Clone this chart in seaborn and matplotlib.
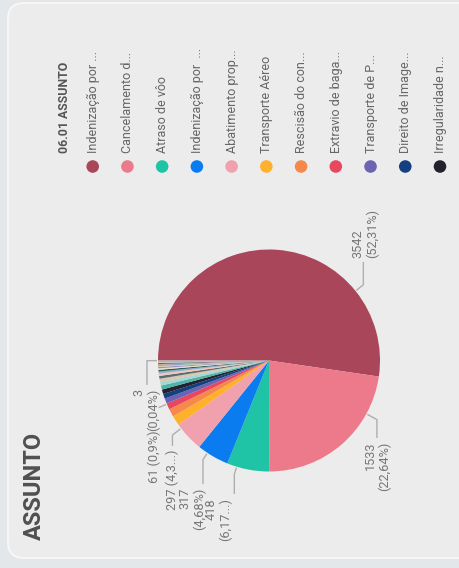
import numpy as np
import pandas as pd
import matplotlib
matplotlib.use("Agg")
import matplotlib.pyplot as plt
from matplotlib.patches import FancyBboxPatch
import seaborn as sns

# Subjects, sorted by number of cases (only the first 11 fit in the legend)
categorias = [
    "Indenização por ...", "Cancelamento d...", "Atraso de vôo",
    "Indenização por  ...", "Abatimento prop...", "Transporte Aéreo",
    "Rescisão do con...", "Extravio de baga...", "Transporte de P...",
    "Direito de Image...", "Irregularidade n...",
    "Overbooking", "Dano moral", "Cobrança indevida", "Reembolso",
    "Assistência material", "Bagagem danificada", "Alteração de voo",
    "Preterição de embarque", "Milhas", "Acessibilidade", "Taxas",
    "Check-in", "Remarcação", "Pacote turístico", "Seguro viagem",
    "Carga", "Animais", "Outros",
]
valores = [
    3542, 1533, 418, 317, 297, 96, 78, 61, 52, 47, 44,
    40, 36, 32, 27, 23, 20, 17, 15, 13, 11, 10, 9, 8, 7, 6, 5, 4, 3,
]
cores = [
    "#A9465A", "#EC7A8B", "#1FC3A6", "#0A7CF0", "#F1A0AE", "#FFB12E",
    "#F5884A", "#E8475F", "#6D63B3", "#143F80", "#22212E",
    "#4FB3A9", "#A7D7D0", "#D9C6B3", "#5B6E6E", "#F3C5C0", "#8FB0C9",
    "#2E5E5A", "#E7E0C9", "#9E8CC0", "#C4D6A0", "#6FA0B8", "#D88F8F",
    "#3D4D5C", "#B5C7C4", "#F2B880", "#7A8F88", "#C9A9C8", "#98C1B9",
]
n_legenda = 11

total = sum(valores)

# Data labels: slice index, position along the slice for the leader,
# label anchor, which end of the text sits next to the leader, line break,
# characters kept of the percentage before the ellipsis.
rotulos = [
    dict(i=0, frac=0.75, x=365.0, y=258, ancora="base", quebra=True, corte=None, ext=10),
    dict(i=1, frac=0.25, x=377.5, y=442, ancora="topo", quebra=True, corte=None, ext=12),
    dict(i=2, frac=0.77, x=218.5, y=498, ancora="topo", quebra=True, corte=4, ext=8),
    dict(i=3, frac=0.69, x=192.0, y=488, ancora="topo", quebra=True, corte=None, ext=8),
    dict(i=4, frac=0.85, x=172.0, y=450, ancora="topo", quebra=False, corte=3, ext=11),
    dict(i=7, frac=0.90, x=154.0, y=430, ancora="topo", quebra=False, corte=None, ext=9, sem_vertical=True),
    dict(i=len(valores) - 1, frac=0.5, x=146.0, y=389, ancora="topo", quebra=True, corte=None, ext=11),
]


def pct_texto(v):
    p = v / total * 100
    s = f"{p:.2f}".rstrip("0").rstrip(".")
    return s.replace(".", ",") + "%"


sns.set_theme(style="white")
plt.rcParams["font.family"] = ["Roboto", "DejaVu Sans"]

fig = plt.figure(figsize=(4.6, 5.68), dpi=100, facecolor="#E3E7EA")
ax = fig.add_axes([0, 0, 1, 1])
ax.set_facecolor("none")

# card
card = FancyBboxPatch((8, 3), 700, 555,
                      boxstyle="round,pad=0,rounding_size=16",
                      fc="#ECECEC", ec="#F7F7F7", lw=1.4, zorder=0,
                      clip_on=False)
ax.add_patch(card)

# pie
cx, cy, raio = 269.0, 360.5, 111.0
ax.pie(valores, colors=cores, startangle=180, counterclock=True,
       radius=raio, center=(cx, cy), frame=True,
       wedgeprops=dict(linewidth=0))

ax.set_xlim(0, 460)
ax.set_ylim(568, 0)
ax.set_aspect("auto")
ax.axis("off")

acum = np.concatenate([[0], np.cumsum(valores)])
cor_rotulo = "#777777"
cor_linha = "#AEAEAE"

for r in rotulos:
    i = r["i"]
    v = valores[i]
    ang = np.deg2rad(180 + (acum[i] + r["frac"] * v) / total * 360)
    p0 = (cx + (raio + 1) * np.cos(ang), cy + (raio + 1) * np.sin(ang))
    p1 = (cx + (raio + r["ext"]) * np.cos(ang), cy + (raio + r["ext"]) * np.sin(ang))
    xs, ys = [p0[0], p1[0]], [p0[1], p1[1]]
    if not r.get("sem_vertical"):
        y_fim = r["y"] + 4 if r["ancora"] == "base" else r["y"] - 4
        xs.append(p1[0])
        ys.append(y_fim)
    ax.plot(xs, ys, color=cor_linha, lw=1.0, solid_capstyle="butt", zorder=3)

    pct = pct_texto(v)
    if r["corte"] is not None:
        pct = pct[:r["corte"]] + "..."
    sep = "\n" if r["quebra"] else " "
    texto = f"{v}{sep}({pct})"
    if r["ancora"] == "base":
        ax.text(r["x"], r["y"], texto, rotation=90, ha="center", va="bottom",
                multialignment="left", fontsize=9.2, color=cor_rotulo,
                linespacing=1.15, zorder=4)
    else:
        ax.text(r["x"], r["y"], texto, rotation=90, ha="center", va="top",
                multialignment="right", fontsize=9.2, color=cor_rotulo,
                linespacing=1.15, zorder=4)

# legend
x0_leg, passo_leg, y_ponto, y_texto = 92.7, 34.73, 166.5, 153
leg = pd.DataFrame({
    "categoria": categorias[:n_legenda],
    "x": x0_leg + passo_leg * np.arange(n_legenda),
    "y": np.full(n_legenda, y_ponto),
})
sns.scatterplot(data=leg, x="x", y="y", hue="categoria",
                palette=dict(zip(categorias[:n_legenda], cores[:n_legenda])),
                s=82, linewidth=0, legend=False, ax=ax, zorder=5)
ax.set_xlim(0, 460)
ax.set_ylim(568, 0)
ax.axis("off")

for _, row in leg.iterrows():
    ax.text(row["x"] + 0.5, y_texto, row["categoria"].strip(), rotation=90,
            ha="center", va="bottom", fontsize=9.0, color="#666666", zorder=5)

ax.text(65, y_texto, "06.01 ASSUNTO", rotation=90, ha="center", va="bottom",
        fontsize=8.8, fontweight="bold", color="#555555", zorder=5)

# card title
ax.text(34, 540, "ASSUNTO", rotation=90, ha="center", va="bottom",
        fontsize=17, fontweight="bold", color="#505050", zorder=5)

fig.savefig("out.png", dpi=100, facecolor=fig.get_facecolor())
